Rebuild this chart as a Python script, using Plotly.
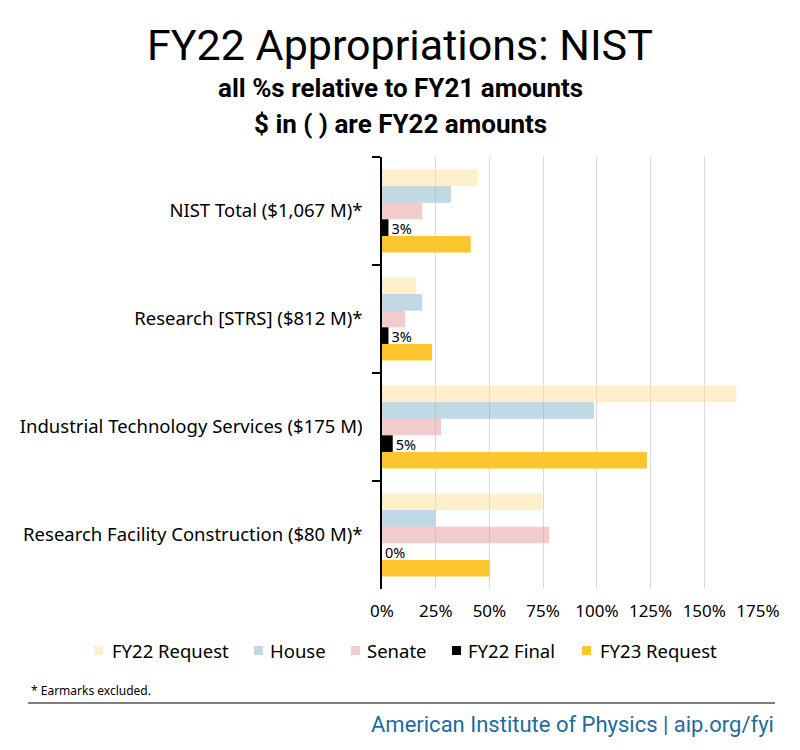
import plotly.graph_objects as go

categories = ["NIST Total ($1,067 M)*", "Research [STRS] ($812 M)*",
              "Industrial Technology Services ($175 M)", "Research Facility Construction ($80 M)*"]
series_names = ["FY22 Request", "House", "Senate", "FY22 Final", "FY23 Request"]
fy22_request = [0.446, 0.159, 1.650, 0.747]
house = [0.321, 0.187, 0.987, 0.248]
senate = [0.187, 0.108, 0.275, 0.779]
fy22_final = [0.03, 0.03, 0.05, 0.0]
fy23_request = [0.413, 0.233, 1.233, 0.501]
final_labels = ["3%", "3%", "5%", "0%"]
x_ticks = [0, 0.25, 0.5, 0.75, 1.0, 1.25, 1.5, 1.75]

colors = ["rgba(254,226,154,0.5)", "rgba(129,179,201,0.5)", "rgba(229,153,153,0.5)",
          "#000000", "#FDC62E"]
legend_colors = ["#FEF0CC", "#C0D9E4", "#F2CCCC", "#000000", "#FDC62E"]
values = [fy22_request, house, senate, fy22_final, fy23_request]

# page body has an 8px margin, so the figure is drawn 8px in from the window corner
OFF = 8
W, H = 792, 742
L, R, T, B = 374, 42, 149, 161
PW, PH = W - L - R, H - T - B


def xp(rx):
    return (rx - OFF - L) / PW


def yp(ry):
    return (H - B - (ry - OFF)) / PH


FONT = "Noto Sans, Open Sans, sans-serif"
COND = "Roboto, Noto Sans, sans-serif"

fig = go.Figure()
for name, vals, col in zip(series_names, values, colors):
    kw = {}
    if name == "FY22 Final":
        kw = dict(text=final_labels, textposition="outside", constraintext="none",
                  textfont=dict(size=14.5, color="#000", family=FONT), cliponaxis=False)
    fig.add_trace(go.Bar(y=categories, x=vals, name=name, orientation="h",
                         marker=dict(color=col, line=dict(width=0)), hoverinfo="skip",
                         showlegend=False, **kw))

fig.update_layout(
    width=W, height=H, barmode="group", bargap=0.23, bargroupgap=0,
    margin=dict(l=L, r=R, t=T, b=B, autoexpand=False),
    plot_bgcolor="white", paper_bgcolor="white",
    font=dict(family=FONT, size=18, color="#000"),
    showlegend=False,
)
fig.update_xaxes(range=[0, 1.75], tickvals=x_ticks, tickformat=".0%", showgrid=True,
                 gridcolor="#D9D9D9", gridwidth=1, zeroline=False, showline=False,
                 tickfont=dict(size=17), ticks="", ticklabelstandoff=10, fixedrange=True)
fig.update_yaxes(autorange="reversed", showline=True, linecolor="#000", linewidth=1.5,
                 ticks="outside", tickson="boundaries", ticklen=8, tickcolor="#000",
                 tickwidth=1.5, showgrid=False, tickfont=dict(size=18.5), ticklabelstandoff=14,
                 fixedrange=True)

anns = [
    dict(text="FY22 Appropriations: NIST", x=xp(400), y=yp(45), font=dict(size=43, family=COND)),
    dict(text="<b>all %s relative to FY21 amounts</b>", x=xp(400), y=yp(88), font=dict(size=26, family=COND)),
    dict(text="<b>$ in ( ) are FY22 amounts</b>", x=xp(400), y=yp(124), font=dict(size=26, family=COND)),
]
for a in anns:
    fig.add_annotation(xref="paper", yref="paper", xanchor="center", yanchor="middle",
                       showarrow=False, **a)

# legend (drawn manually so that it sits in one centred row)
legend_marker_x = [98.5, 258.5, 355.5, 456.5, 586.5]
legend_text_x = [112, 270, 367, 468, 600]
LEG_Y = 650.5
for name, col, mx, tx in zip(series_names, legend_colors, legend_marker_x, legend_text_x):
    fig.add_shape(type="rect", xref="paper", yref="paper", x0=xp(mx - 4.5), x1=xp(mx + 4.5),
                  y0=yp(LEG_Y + 4.5), y1=yp(LEG_Y - 4.5), fillcolor=col, line=dict(width=0))
    fig.add_annotation(text=name, xref="paper", yref="paper", x=xp(tx - 2), y=yp(LEG_Y),
                       xanchor="left", yanchor="middle", showarrow=False,
                       font=dict(size=18.5, family=FONT))

fig.add_annotation(text="* Earmarks excluded.", xref="paper", yref="paper", x=xp(29), y=yp(690),
                   xanchor="left", yanchor="middle", showarrow=False, font=dict(size=12, family=FONT))
fig.add_annotation(text="American Institute of Physics | aip.org/fyi", xref="paper", yref="paper",
                   x=xp(776), y=yp(724), xanchor="right", yanchor="middle", showarrow=False,
                   font=dict(size=22, family=COND, color="#1F6B9B"))
fig.add_shape(type="line", xref="paper", yref="paper", x0=xp(28), x1=xp(775), y0=yp(703), y1=yp(703),
              line=dict(color="#000", width=1.2))

fig.write_html("out.html")
